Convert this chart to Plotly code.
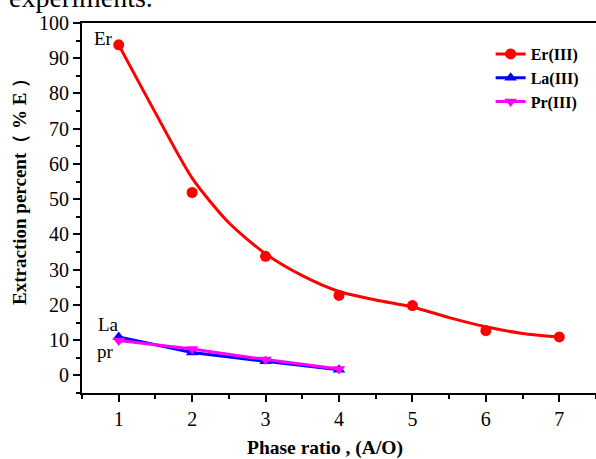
import plotly.graph_objects as go

# Data
phase_ratio = [1, 2, 3, 4, 5, 6, 7]
er_values = [93.8, 51.9, 33.8, 22.7, 19.8, 12.7, 10.9]

# Fitted Er curve as drawn in the picture (values read at half steps)
er_fit_x = [1, 1.5, 2, 2.5, 3, 3.5, 4, 4.5, 5, 5.5, 6, 6.5, 7]
er_fit_y = [93.8, 74.5, 56.0, 43.3, 34.5, 28.3, 23.8, 21.4, 19.4, 16.4, 13.8, 11.9, 10.9]

la_ratio = [1, 2, 3, 4]
la_values = [10.9, 6.5, 4.0, 1.6]
pr_values = [9.9, 7.5, 4.5, 1.8]

x_ticks = [1, 2, 3, 4, 5, 6, 7]
y_ticks = [0, 10, 20, 30, 40, 50, 60, 70, 80, 90, 100]

SERIF = "Liberation Serif, Times New Roman, serif"
RED = "#ff0000"
BLUE = "#0000ff"
MAGENTA = "#ff00ff"

fig = go.Figure()

# Er fitted curve
fig.add_trace(go.Scatter(x=er_fit_x, y=er_fit_y, mode="lines",
                         line=dict(color=RED, width=3, shape="spline", smoothing=0.7),
                         showlegend=False, hoverinfo="skip"))
# Er points
fig.add_trace(go.Scatter(x=phase_ratio, y=er_values, mode="markers",
                         marker=dict(color=RED, size=11, symbol="circle"),
                         showlegend=False))
# Legend entry for Er
fig.add_trace(go.Scatter(x=[None], y=[None], mode="lines+markers", name="Er(III)",
                         line=dict(color=RED, width=3),
                         marker=dict(color=RED, size=11, symbol="circle")))
fig.add_trace(go.Scatter(x=la_ratio, y=la_values, mode="lines+markers", name="La(III)",
                         line=dict(color=BLUE, width=3),
                         marker=dict(color=BLUE, size=11, symbol="triangle-up")))
fig.add_trace(go.Scatter(x=la_ratio, y=pr_values, mode="lines+markers", name="Pr(III)",
                         line=dict(color=MAGENTA, width=3),
                         marker=dict(color=MAGENTA, size=11, symbol="triangle-down")))

# in-plot labels
for txt, xv, yv in [("Er", 0.63, 95.6), ("La", 0.69, 14.3), ("pr", 0.68, 6.9)]:
    fig.add_annotation(x=xv, y=yv, xref="x", yref="y", text=txt, showarrow=False,
                       xanchor="left", yanchor="middle",
                       font=dict(family=SERIF, size=19, color="black"))

# axis titles (placed as in the reference)
fig.add_annotation(x=-0.1206, y=0.557, xref="paper", yref="paper",
                   text="<b>Extraction percent（ % E ）</b>", textangle=-90,
                   showarrow=False, xanchor="center", yanchor="middle",
                   font=dict(family=SERIF, size=19, color="black"))
fig.add_annotation(x=0.473, y=-0.149, xref="paper", yref="paper",
                   text="<b>Phase ratio , (A/O)</b>",
                   showarrow=False, xanchor="center", yanchor="middle",
                   font=dict(family=SERIF, size=19.5, color="black"))

# cut-off page text at the very top
fig.add_annotation(x=-0.146, y=1.07, xref="paper", yref="paper", text="experiments.",
                   showarrow=False, xanchor="left", yanchor="middle",
                   font=dict(family=SERIF, size=28, color="black"))

fig.update_layout(
    width=596, height=459,
    margin=dict(l=82, r=0, t=23, b=66, autoexpand=False),
    paper_bgcolor="white", plot_bgcolor="white",
    font=dict(family=SERIF, color="black"),
    legend=dict(x=0.795, y=0.962, xanchor="left", yanchor="top",
                bgcolor="rgba(0,0,0,0)", borderwidth=0,
                font=dict(family=SERIF, size=16, color="black", weight="bold"),
                itemwidth=30, tracegroupgap=0),
    xaxis=dict(range=[0.5, 7.5], tickvals=x_ticks, ticktext=[str(v) for v in x_ticks],
               automargin=False,
               showgrid=False, zeroline=False, showline=True, linecolor="black", linewidth=2,
               ticks="outside", ticklen=7, tickwidth=1.5, tickcolor="black",
               minor=dict(ticks="outside", ticklen=4, tickwidth=1.5, tickcolor="black", dtick=0.5, tick0=0.5),
               mirror=True,
               tickfont=dict(family=SERIF, size=20, color="black")),
    yaxis=dict(range=[-5, 100], tickvals=y_ticks, ticktext=[str(v) for v in y_ticks],
               automargin=False,
               showgrid=False, zeroline=False, showline=True, linecolor="black", linewidth=2,
               ticks="outside", ticklen=7, tickwidth=1.5, tickcolor="black",
               minor=dict(ticks="outside", ticklen=4, tickwidth=1.5, tickcolor="black", dtick=5, tick0=-5),
               tickfont=dict(family=SERIF, size=20, color="black")),
)

fig.write_html("out.html", post_script="document.body.style.margin='0';",
               config={"displayModeBar": False})
